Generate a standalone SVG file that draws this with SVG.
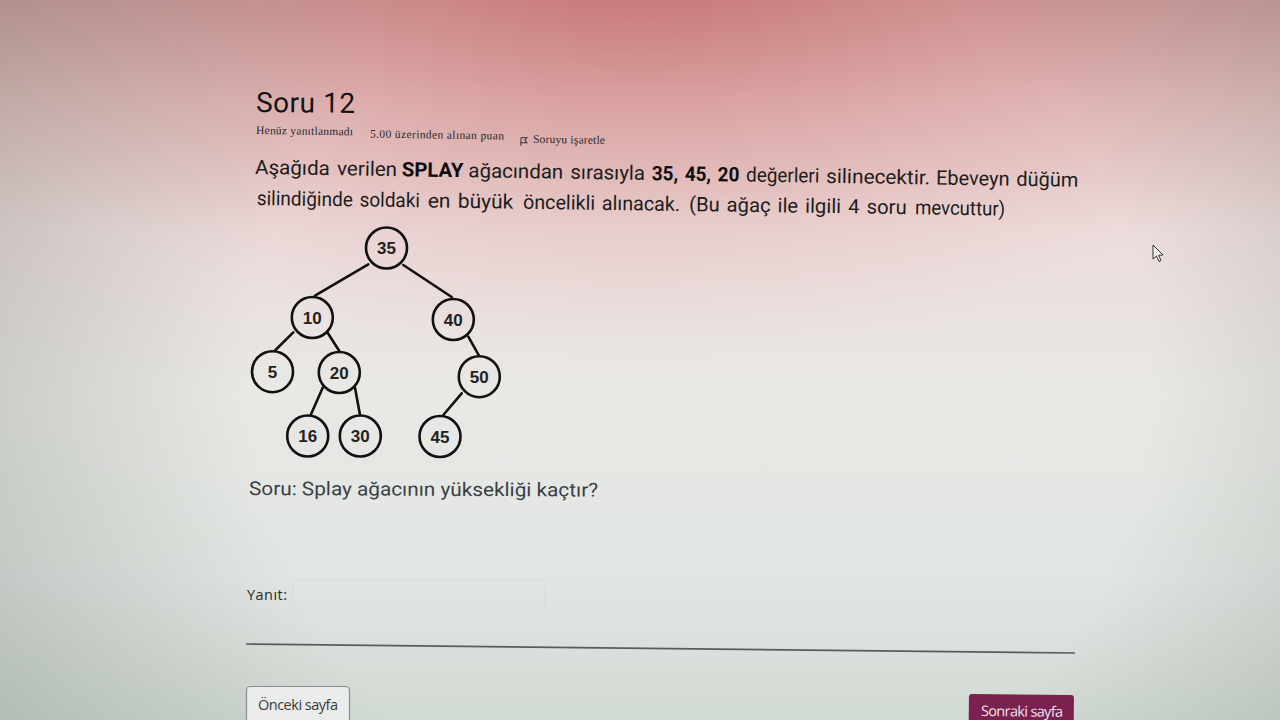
<svg xmlns="http://www.w3.org/2000/svg" width="1280" height="720" viewBox="0 0 1280 720">
<defs>
<linearGradient id="bg" x1="0" y1="0" x2="0" y2="1">
<stop offset="0" stop-color="#cf9c9b"/>
<stop offset="0.14" stop-color="#e2bebd"/>
<stop offset="0.32" stop-color="#ecdddc"/>
<stop offset="0.55" stop-color="#e8e8e5"/>
<stop offset="0.8" stop-color="#e1e6e2"/>
<stop offset="1" stop-color="#d2dad4"/>
</linearGradient>
<radialGradient id="red" cx="0" cy="0" r="1" gradientUnits="userSpaceOnUse" gradientTransform="translate(640 -60) scale(720 420)">
<stop offset="0" stop-color="#bf5656" stop-opacity="0.65"/>
<stop offset="0.5" stop-color="#cf7a7a" stop-opacity="0.3"/>
<stop offset="1" stop-color="#e0a0a0" stop-opacity="0"/>
</radialGradient>
<radialGradient id="vig" cx="700" cy="380" r="820" gradientUnits="userSpaceOnUse">
<stop offset="0.55" stop-color="#707a72" stop-opacity="0"/>
<stop offset="1" stop-color="#707a72" stop-opacity="0.35"/>
</radialGradient>
<style>
.main{font-family:Roboto,"Liberation Sans",sans-serif;font-size:20px;fill:#1c1c1c;word-spacing:2px}
.b{font-weight:bold;fill:#0e0e0e}
.meta{font-family:"Liberation Serif","DejaVu Serif",serif;font-size:11.5px;fill:#262626}
.node circle{fill:none;stroke:#111;stroke-width:2.6}
.node text{font-family:"Liberation Sans",Arial,sans-serif;font-weight:bold;font-size:17px;fill:#222;text-anchor:middle}
#edges line{stroke:#111;stroke-width:2.6;stroke-linecap:round}
.ui{font-family:"Open Sans","Liberation Sans",sans-serif;font-size:14.5px}
</style>
</defs>
<rect width="1280" height="720" fill="url(#bg)"/>
<rect width="1280" height="720" fill="url(#red)"/>
<rect width="1280" height="720" fill="url(#vig)"/>

<g id="title">
<text x="256" y="112" font-family="Roboto,'Liberation Sans',sans-serif" font-size="28" fill="#141414" textLength="99" transform="rotate(0.5 256 112)">Soru 12</text>
</g>
<g id="meta" transform="rotate(0.8 256 134)">
<text class="meta" x="256" y="134" textLength="97">Henüz yanıtlanmadı</text>
<text class="meta" x="370" y="136" textLength="134">5.00 üzerinden alınan puan</text>
<path d="M521 134 L521 142 M521 134 L527 134 L525 136.5 L527 139 L521 139" fill="none" stroke="#333" stroke-width="1"/>
<text class="meta" x="533" y="139" textLength="72">Soruyu işaretle</text>
</g>

<g id="question-text">
<text class="main" x="255" y="174" textLength="142" lengthAdjust="spacingAndGlyphs" transform="rotate(0.85 255 174)">Aşağıda verilen</text>
<text class="main b" x="401.7" y="176.3" textLength="61.6" lengthAdjust="spacingAndGlyphs" transform="rotate(0.85 401.7 176.3)">SPLAY</text>
<text class="main" x="468.3" y="177.3" textLength="176.7" lengthAdjust="spacingAndGlyphs" transform="rotate(0.85 468.3 177.3)">ağacından sırasıyla</text>
<text class="main b" x="651.7" y="180.2" textLength="87.6" lengthAdjust="spacingAndGlyphs" transform="rotate(0.85 651.7 180.2)">35, 45, 20</text>
<text class="main" x="746" y="181.6" textLength="73.3" lengthAdjust="spacingAndGlyphs" transform="rotate(0.85 746 181.6)">değerleri</text>
<text class="main" x="826" y="182.9" textLength="104" lengthAdjust="spacingAndGlyphs" transform="rotate(0.85 826 182.9)">silinecektir.</text>
<text class="main" x="936" y="184.6" textLength="142.3" lengthAdjust="spacingAndGlyphs" transform="rotate(0.85 936 184.6)">Ebeveyn düğüm</text>

<text class="main" x="256.7" y="205" textLength="163.3" lengthAdjust="spacingAndGlyphs" transform="rotate(0.8 256.7 205)">silindiğinde soldaki</text>
<text class="main" x="427.7" y="207.4" textLength="85.6" lengthAdjust="spacingAndGlyphs" transform="rotate(0.8 427.7 207.4)">en büyük</text>
<text class="main" x="523" y="208.8" textLength="157" lengthAdjust="spacingAndGlyphs" transform="rotate(0.8 523 208.8)">öncelikli alınacak.</text>
<text class="main" x="689" y="211.1" textLength="109" lengthAdjust="spacingAndGlyphs" transform="rotate(0.8 689 211.1)">(Bu ağaç ile</text>
<text class="main" x="805" y="212.7" textLength="101.7" lengthAdjust="spacingAndGlyphs" transform="rotate(0.8 805 212.7)">ilgili 4 soru</text>
<text class="main" x="915" y="214.3" textLength="90" lengthAdjust="spacingAndGlyphs" transform="rotate(0.8 915 214.3)">mevcuttur)</text>
</g>

<g id="edges">
<line x1="368.3" y1="264.3" x2="315" y2="295.7"/>
<line x1="403.3" y1="265" x2="451.7" y2="297"/>
<line x1="293.3" y1="332.3" x2="275" y2="350.5"/>
<line x1="327.3" y1="332.3" x2="339.3" y2="351"/>
<line x1="468.3" y1="336.7" x2="479" y2="355.7"/>
<line x1="322.7" y1="387.7" x2="310.7" y2="415"/>
<line x1="355" y1="387.7" x2="360" y2="415"/>
<line x1="461.7" y1="393.3" x2="443.3" y2="415"/>
</g>

<g id="n35" class="node"><circle cx="386.5" cy="248" r="20.5"/><text x="386.5" y="254.3">35</text></g>
<g id="n10" class="node"><circle cx="312.3" cy="317.5" r="20.5"/><text x="312.3" y="323.8">10</text></g>
<g id="n40" class="node"><circle cx="453.3" cy="319.5" r="20.5"/><text x="453.3" y="325.8">40</text></g>
<g id="n5" class="node"><circle cx="272.5" cy="371.7" r="20.5"/><text x="272.5" y="378">5</text></g>
<g id="n20" class="node"><circle cx="339.3" cy="372.5" r="20.5"/><text x="339.3" y="378.8">20</text></g>
<g id="n50" class="node"><circle cx="479.3" cy="376.7" r="20.5"/><text x="479.3" y="383">50</text></g>
<g id="n16" class="node"><circle cx="307.7" cy="436" r="20.5"/><text x="307.7" y="442.3">16</text></g>
<g id="n30" class="node"><circle cx="360.3" cy="436" r="20.5"/><text x="360.3" y="442.3">30</text></g>
<g id="n45" class="node"><circle cx="440" cy="436.5" r="20.5"/><text x="440" y="442.8">45</text></g>

<g id="soru">
<text x="249" y="495" font-family="Roboto,'Liberation Sans',sans-serif" font-size="19" fill="#3b3f46" textLength="349" lengthAdjust="spacingAndGlyphs" transform="rotate(0.25 249 495)">Soru: Splay ağacının yüksekliği kaçtır?</text>
</g>

<g id="answer">
<text class="ui" x="247" y="600" fill="#2a2a2a" textLength="40">Yanıt:</text>
<rect x="293" y="580" width="252" height="33" fill="none" stroke="#d9dcd9" stroke-width="1" rx="2"/>
</g>
<line x1="246" y1="644" x2="1075" y2="653" stroke="#5a5c5b" stroke-width="1.6"/>

<g id="prev">
<rect x="246.5" y="686.5" width="103" height="40" rx="4" fill="#e9ecea" stroke="#8a8e8c" stroke-width="1.2"/>
<text class="ui" x="258" y="710" fill="#3a3a3a" textLength="80">Önceki sayfa</text>
</g>
<g id="next">
<rect x="969" y="694" width="105" height="36" rx="3" fill="#7b2150" transform="rotate(0.6 969 694)"/>
<text class="ui" x="981" y="716" fill="#efe2ea" textLength="82" transform="rotate(0.6 981 716)">Sonraki sayfa</text>
</g>

<g id="cursor">
<path d="M1153 245 L1153 259 L1156.5 256 L1159 261.5 L1161 260.5 L1158.6 255.2 L1163 255 Z" fill="#f2f0f0" stroke="#333" stroke-width="1" stroke-linejoin="round"/>
</g>
</svg>
